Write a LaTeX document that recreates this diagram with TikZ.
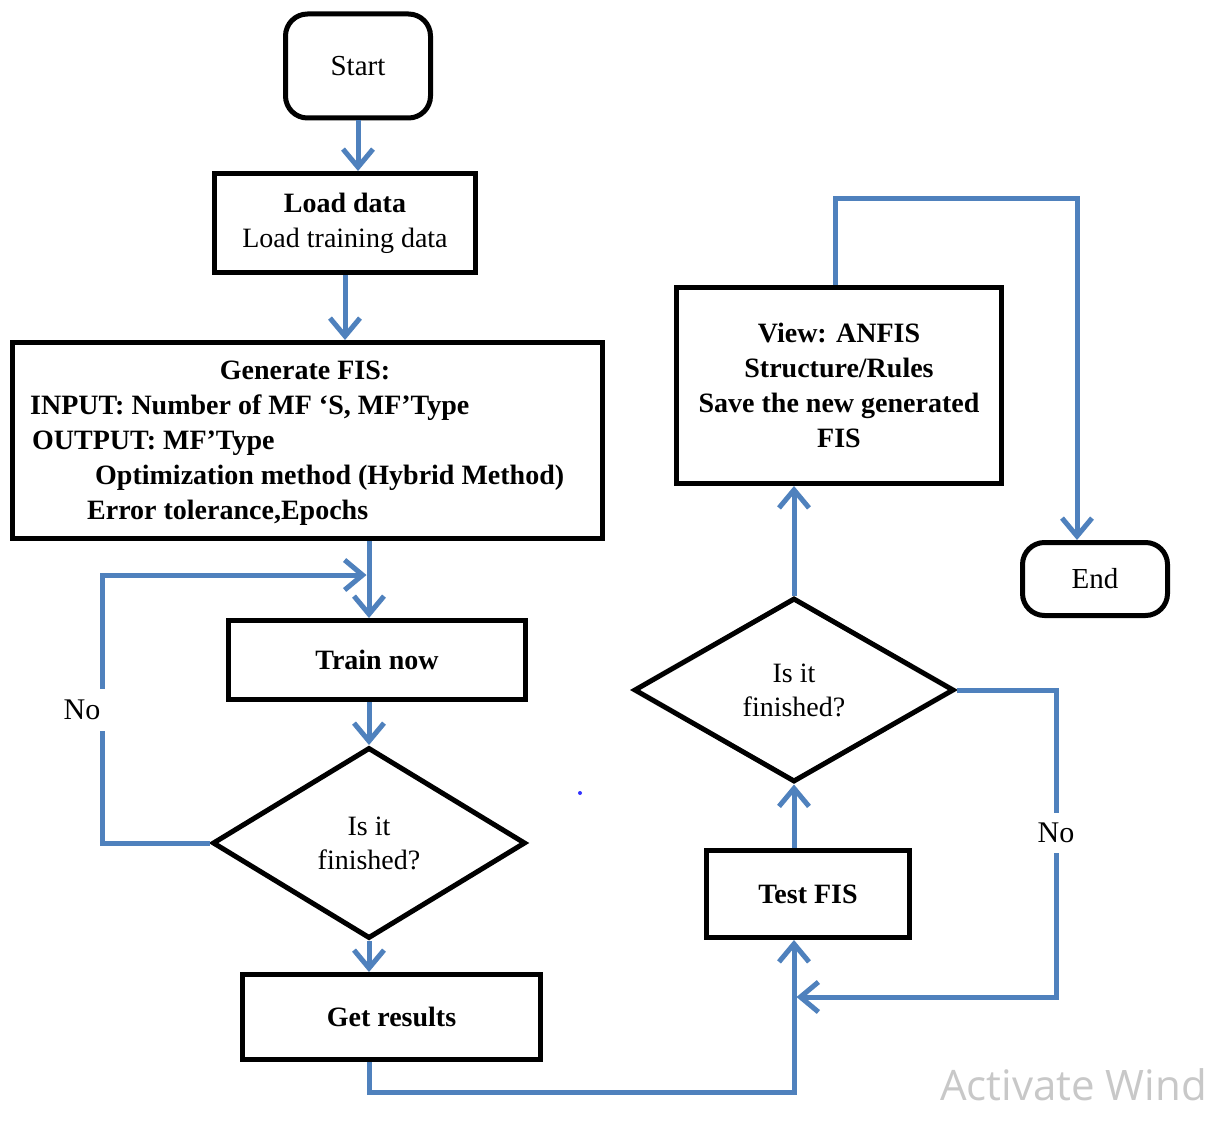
\documentclass[tikz,border=0pt]{standalone}
\usepackage{fontspec}
\setmainfont{Liberation Serif}
\newfontfamily\wmfont{Open Sans}
\usetikzlibrary{arrows.meta,shapes.geometric}
\definecolor{flowblue}{HTML}{4F81BD}
\definecolor{wmgray}{HTML}{C8C8C8}
\begin{document}
\begin{tikzpicture}[x=1pt,y=-1pt,
  box/.style={draw=black, line width=5pt, rectangle, inner sep=0pt, align=center,
    font=\fontsize{28}{35}\selectfont\bfseries},
  termbox/.style={box, rounded corners=22pt, font=\fontsize{29}{35}\selectfont},
  decision/.style={draw=black, line width=5pt, diamond, inner sep=0pt, align=center,
    font=\fontsize{28}{34}\selectfont},
  flow/.style={draw=flowblue, line width=5pt, -{Straight Barb[length=18pt,width=30pt]}},
  lbl/.style={fill=white, inner xsep=5pt, inner ysep=11pt, font=\fontsize{30}{36}\selectfont},
  gentext/.style={anchor=base west, inner sep=0pt, font=\fontsize{28}{35}\selectfont\bfseries},
]
\clip (0,0) rectangle (1215,1137);
\fill[white] (0,0) rectangle (1215,1137);

% ---- nodes ----
\node[termbox, minimum width=145pt, minimum height=104pt] (start) at (358,66) {Start};
\node[box, minimum width=261pt, minimum height=99pt] (load) at (345,223)
  {Load data\\{\mdseries Load training data}};
\node[box, minimum width=590pt, minimum height=196pt] (gen) at (307.5,440.5) {};
\node[gentext, anchor=base] (genT) at (305,379) {Generate FIS:};
\node[gentext] (genA) at (30,414) {INPUT: Number of MF ‘S, MF’Type};
\node[gentext] (genB) at (32,449) {OUTPUT: MF’Type};
\node[gentext] (genC) at (95,484) {Optimization method (Hybrid Method)};
\node[gentext] (genD) at (87,519) {Error tolerance,Epochs};

\node[box, minimum width=297pt, minimum height=79pt] (train) at (377,660) {Train now};
\node[decision, minimum width=313pt, minimum height=191pt] (d1) at (369,843) {Is it\\finished?};
\node[box, minimum width=298pt, minimum height=85pt] (getres) at (391.5,1017) {Get results};

\node[box, minimum width=203pt, minimum height=87pt] (test) at (808,894) {Test FIS};
\node[decision, minimum width=320pt, minimum height=184pt] (d2) at (794,690) {Is it\\finished?};
\node[box, minimum width=325pt, minimum height=196pt] (view) at (839,385.5)
  {View: ANFIS\\Structure/Rules\\Save the new generated\\FIS};
\node[termbox, minimum width=145pt, minimum height=73pt] (end) at (1095,579) {End};

% ---- bend points ----
\coordinate (noL) at (102,575);
\coordinate (lowL) at (369,1092);
\coordinate (lowR) at (794,1092);
\coordinate (noR) at (1056,997);
\coordinate (topL) at (835,198);
\coordinate (topR) at (1077,198);

% ---- connectors ----
\draw[flow] (start.south) -- (start.south |- load.north);
\draw[flow] (load.south) -- (load.south |- gen.north);
\draw[flow] (d1 |- gen.south) -- (d1 |- train.north);
\draw[flow] (d1 |- train.south) -- (d1.north);
\draw[flow] (d1.south) -- (d1 |- getres.north);
\draw[flow] (d1.west) -| (noL) -- ([xshift=-2.5pt]d1 |- noL);
\draw[flow] (getres.south -| lowL) -- (lowL) -- (lowR) -- (lowR |- test.south);
\draw[flow] (d2 |- test.north) -- (d2.south);
\draw[flow] (d2.north) -- (d2 |- view.south);
\draw[flow] (d2.east) -| (noR) -- ([xshift=2.5pt]d2 |- noR);
\draw[flow] (view.north -| topL) -- (topL) -- (topR) -- (topR |- end.north);

% ---- branch labels ----
\node[lbl] (noLeft) at (82,710) {No};
\node[lbl, inner ysep=10pt] (noRight) at (1056,833) {No};

% stray mark
\fill[blue!80] (580,793) circle (2pt);

% ---- system watermark ----
\node[anchor=base west, inner sep=0pt, text=wmgray, font=\wmfont\fontsize{42}{50}\selectfont]
  (wm1) at (940,1100) {Activate Wind};
\end{tikzpicture}
\end{document}
